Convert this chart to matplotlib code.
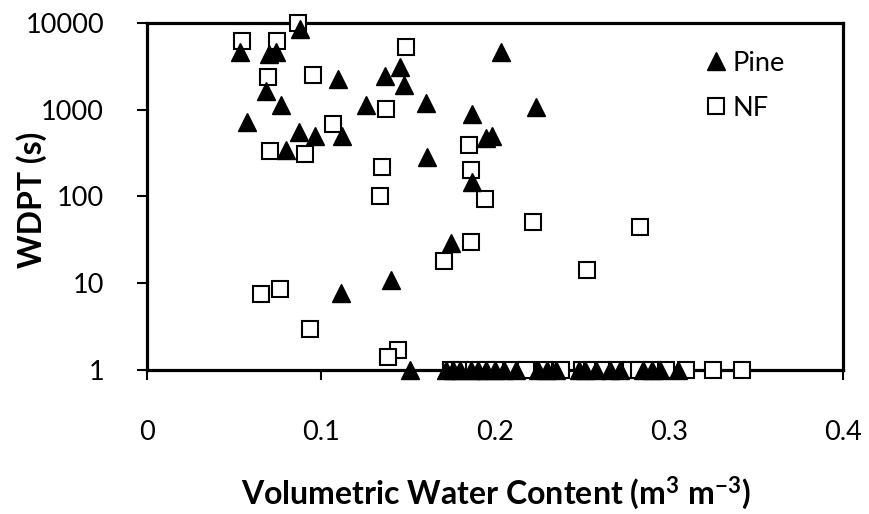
import matplotlib
matplotlib.use("Agg")
import matplotlib.pyplot as plt
from matplotlib.lines import Line2D

plt.rcParams['font.family'] = ['Lato', 'DejaVu Sans']
plt.rcParams['mathtext.default'] = 'regular'

# Pine data (volumetric water content, WDPT seconds)
pine_x = [0.0533, 0.0577, 0.0684, 0.070, 0.074, 0.0768, 0.0800, 0.0871, 0.0877, 0.0967,
          0.1098, 0.1117, 0.1121, 0.1259, 0.137, 0.1404, 0.1452, 0.1475, 0.1603, 0.161,
          0.1746, 0.187, 0.187, 0.195, 0.198, 0.2034, 0.2235,
          0.151, 0.172, 0.176, 0.18, 0.186, 0.19, 0.195, 0.2, 0.205, 0.212, 0.225, 0.23,
          0.235, 0.248, 0.252, 0.258, 0.266, 0.272, 0.285, 0.29, 0.295, 0.305]
pine_y = [4650, 725, 1620, 4400, 4600, 1130, 342, 547, 8400, 497,
          2270, 7.8, 497, 1130, 2440, 10.9, 3120, 1900, 1180, 287,
          28.8, 880, 148, 470, 500, 4650, 1060,
          1, 1, 1, 1, 1, 1, 1, 1, 1, 1, 1, 1,
          1, 1, 1, 1, 1, 1, 1, 1, 1, 1]

# NF data
nf_x = [0.0548, 0.0749, 0.0867, 0.0697, 0.0953, 0.1488, 0.1373, 0.1068, 0.0707, 0.0909,
        0.1352, 0.1339, 0.1849, 0.1862, 0.1943, 0.1708, 0.0657, 0.0764, 0.0934, 0.144,
        0.1385, 0.2216, 0.2835, 0.186, 0.2531,
        0.175, 0.18, 0.188, 0.195, 0.2, 0.21, 0.218, 0.228, 0.238, 0.25, 0.256, 0.262,
        0.27, 0.278, 0.283, 0.29, 0.298, 0.31, 0.325, 0.342]
nf_y = [6170, 6170, 10000, 2400, 2500, 5200, 1015, 680, 336, 308,
        220, 100, 391, 201, 93, 18, 7.45, 8.6, 3.0, 1.7,
        1.42, 50, 44, 30, 14.2,
        1, 1, 1, 1, 1, 1, 1, 1, 1, 1, 1, 1,
        1, 1, 1, 1, 1, 1, 1, 1]

x_ticks = [0, 0.1, 0.2, 0.3, 0.4]
x_tick_labels = ['0', '0.1', '0.2', '0.3', '0.4']
y_ticks = [1, 10, 100, 1000, 10000]
y_tick_labels = ['1', '10', '100', '1000', '10000']

W, H = 870, 514
fig = plt.figure(figsize=(W / 100, H / 100), dpi=100)
ax = fig.add_axes([147 / W, 1 - 370 / H, (843 - 147) / W, (370 - 22.7) / H])

ax.plot(nf_x, nf_y, linestyle='none', marker='s', ms=12, mfc='white', mec='black',
        mew=1.5, label='NF', clip_on=False, zorder=3)
ax.plot(pine_x, pine_y, linestyle='none', marker='^', ms=13, mfc='black', mec='black',
        mew=1, label='Pine', clip_on=False, zorder=4)

ax.set_yscale('log')
ax.set_xlim(0, 0.4)
ax.set_ylim(1, 10000)
ax.set_xticks(x_ticks)
ax.set_xticklabels(x_tick_labels)
ax.set_yticks(y_ticks)
ax.set_yticklabels(y_tick_labels)
ax.yaxis.set_minor_locator(matplotlib.ticker.NullLocator())

for s in ax.spines.values():
    s.set_linewidth(2.3)
ax.tick_params(axis='both', direction='out', length=7, width=1.5, labelsize=19.5,
               colors='black')
ax.tick_params(axis='x', pad=29)
ax.tick_params(axis='y', pad=24)

handles = [Line2D([], [], linestyle='none', marker='^', ms=13, mfc='black', mec='black'),
           Line2D([], [], linestyle='none', marker='s', ms=12, mfc='white', mec='black', mew=1.5)]
leg = ax.legend(handles, ['Pine', 'NF'], loc='upper right', frameon=False, fontsize=19.5,
                handletextpad=0.15, labelspacing=0.75, bbox_to_anchor=(0.951, 0.99),
                handlelength=0.9)

fig.text(496 / W, 1 - 493 / H, 'Volumetric Water Content (m$^{3}$ m$^{-3}$)',
         ha='center', va='center', fontsize=23, fontweight='bold')
fig.text(32 / W, 1 - 200 / H, 'WDPT (s)', ha='center', va='center', rotation=90,
         fontsize=23, fontweight='bold')

fig.savefig('out.png', dpi=100)
